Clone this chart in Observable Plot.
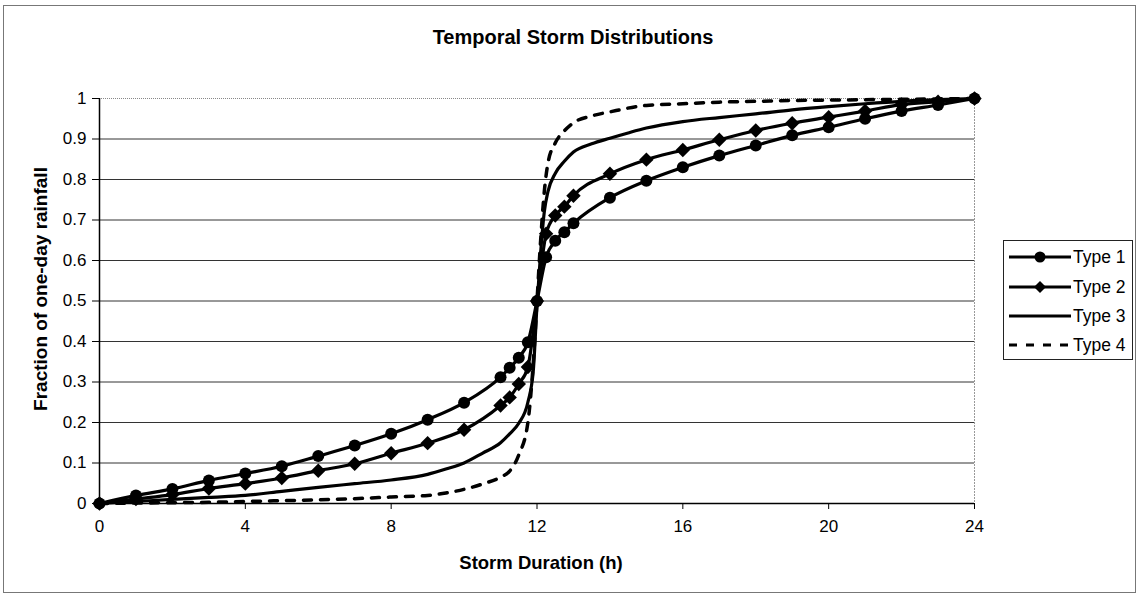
<!DOCTYPE html>
<html>
<head>
<meta charset="utf-8">
<script src="https://cdn.jsdelivr.net/npm/d3@7"></script>
<script src="https://cdn.jsdelivr.net/npm/@observablehq/plot@0.6"></script>
<style>
  html, body { margin: 0; padding: 0; background: #fff; }
  #wrap { position: relative; width: 1140px; height: 597px; font-family: "Liberation Sans", Arial, sans-serif; }
  #frame { position: absolute; left: 3px; top: 5px; width: 1133px; height: 588px; border: 1.5px solid #777; box-sizing: border-box; pointer-events: none; }
  #legend { position: absolute; left: 1003px; top: 240px; width: 130px; height: 120px; border: 1.5px solid #222; box-sizing: border-box; background: #fff; }
  .item { position: absolute; left: 4px; height: 20px; display: flex; align-items: center; font-size: 17.5px; color: #000; }
  .item svg { display: block; margin-right: 1px; }
</style>
</head>
<body>
<div id="wrap">
  <div id="chart"></div>
  <div id="frame"></div>
  <div id="legend"></div>
</div>
<script>
// ---- data ----
const title = "Temporal Storm Distributions";
const xLabel = "Storm Duration (h)";
const yLabel = "Fraction of one-day rainfall";
const seriesNames = ["Type 1", "Type 2", "Type 3", "Type 4"];
const xTicks = [0, 4, 8, 12, 16, 20, 24];
const yTicks = [0, 0.1, 0.2, 0.3, 0.4, 0.5, 0.6, 0.7, 0.8, 0.9, 1];

const hoursMarked = [0,1,2,3,4,5,6,7,8,9,10,11,11.25,11.5,11.75,12,12.25,12.5,12.75,13,14,15,16,17,18,19,20,21,22,23,24];
const type1 = [0,0.02,0.036,0.057,0.074,0.092,0.117,0.143,0.172,0.207,0.249,0.312,0.335,0.36,0.398,0.5,0.608,0.649,0.67,0.692,0.755,0.797,0.83,0.859,0.884,0.909,0.929,0.95,0.969,0.984,1];
const type2 = [0,0.011,0.022,0.037,0.049,0.063,0.081,0.098,0.124,0.149,0.182,0.242,0.262,0.295,0.337,0.5,0.666,0.711,0.733,0.76,0.814,0.849,0.873,0.898,0.921,0.939,0.954,0.969,0.985,0.992,1];

const hoursType3 = [0,1,2,3,4,5,6,7,8,9,9.5,10,10.5,11,11.25,11.5,11.75,11.9,12,12.1,12.2,12.3,12.5,12.75,13,13.5,14,14.5,15,16,17,18,19,20,21,22,23,24];
const type3 = [0,0.005,0.01,0.015,0.02,0.03,0.04,0.049,0.058,0.072,0.085,0.1,0.124,0.15,0.172,0.198,0.25,0.33,0.49,0.62,0.72,0.77,0.815,0.845,0.868,0.888,0.902,0.915,0.927,0.943,0.953,0.962,0.972,0.98,0.987,0.993,0.997,1];

const hoursType4 = [0,1,2,3,4,5,6,7,8,9,9.5,10,10.5,11,11.25,11.5,11.75,11.9,12,12.1,12.2,12.3,12.5,12.75,13,13.5,14,15,16,17,18,19,20,21,22,23,24];
const type4 = [0,0.001,0.002,0.003,0.005,0.007,0.009,0.012,0.016,0.02,0.026,0.035,0.048,0.065,0.08,0.12,0.2,0.35,0.5,0.65,0.77,0.84,0.89,0.92,0.94,0.957,0.967,0.983,0.987,0.991,0.993,0.995,0.996,0.997,0.998,0.999,1];

// ---- build tables ----
const s1 = hoursMarked.map((h, i) => ({h, v: type1[i]}));
const s2 = hoursMarked.map((h, i) => ({h, v: type2[i]}));
const s3 = hoursType3.map((h, i) => ({h, v: type3[i]}));
const s4 = hoursType4.map((h, i) => ({h, v: type4[i]}));

const font = "'Liberation Sans', Arial, sans-serif";
const chart = Plot.plot({
  width: 1140,
  height: 597,
  marginLeft: 99,
  marginRight: 166,
  marginTop: 98,
  marginBottom: 94,
  x: {domain: [0, 24]},
  y: {domain: [0, 1]},
  style: {fontFamily: font, fontSize: "17px", color: "#000", background: "transparent", overflow: "visible"},
  marks: [
    Plot.gridY(yTicks.filter(d => d > 0 && d < 1), {stroke: "#333", strokeOpacity: 1, strokeWidth: 1}),
    Plot.ruleY([1], {stroke: "#888", strokeDasharray: "1,1"}),
    Plot.ruleX([24], {stroke: "#999", strokeDasharray: "2,1"}),
    Plot.axisY(yTicks, {tickSize: 7, tickPadding: 6, label: null, tickFormat: d => String(d), fontSize: 17, stroke: "#000"}),
    Plot.axisX(xTicks, {tickSize: 6, tickPadding: 10, label: null, fontSize: 17, stroke: "#000"}),
    Plot.ruleX([0], {stroke: "#000", strokeWidth: 1.5}),
    Plot.ruleY([0], {stroke: "#000", strokeWidth: 1.5}),
    Plot.line(s4, {x: "h", y: "v", stroke: "#000", strokeWidth: 3.5, strokeDasharray: "8,9", curve: "monotone-x"}),
    Plot.line(s3, {x: "h", y: "v", stroke: "#000", strokeWidth: 3.2, curve: "monotone-x"}),
    Plot.line(s2, {x: "h", y: "v", stroke: "#000", strokeWidth: 3.2, curve: "monotone-x"}),
    Plot.line(s1, {x: "h", y: "v", stroke: "#000", strokeWidth: 3.2, curve: "monotone-x"}),
    Plot.dot(s2, {x: "h", y: "v", symbol: "diamond2", r: 6.5, fill: "#000", stroke: "none"}),
    Plot.dot(s1, {x: "h", y: "v", symbol: "circle", r: 6, fill: "#000", stroke: "none"}),
    Plot.text([title], {text: d => d, frameAnchor: "top", dy: -61, lineAnchor: "middle", textAnchor: "middle", fontWeight: "bold", fontSize: 20, dx: 36}),
    Plot.text([yLabel], {text: d => d, frameAnchor: "left", dx: -59, rotate: -90, lineAnchor: "middle", textAnchor: "middle", fontWeight: "bold", fontSize: 19, dy: -12}),
    Plot.text([xLabel], {text: d => d, frameAnchor: "bottom", dy: 60, lineAnchor: "middle", textAnchor: "middle", fontWeight: "bold", fontSize: 18.5, dx: 4})
  ]
});
document.getElementById("chart").appendChild(chart);

// ---- legend ----
const legend = document.getElementById("legend");
const tops = [6, 36, 65, 94];
seriesNames.forEach((name, i) => {
  const item = document.createElement("div");
  item.className = "item";
  item.style.top = tops[i] + "px";
  let marker = "";
  if (i === 0) marker = '<circle cx="32" cy="10" r="5.5" fill="#000"/>';
  if (i === 1) marker = '<path d="M32 4 L38 10 L32 16 L26 10 Z" fill="#000"/>';
  const dash = i === 3 ? ' stroke-dasharray="8,9"' : '';
  item.innerHTML = '<svg width="64" height="20"><line x1="1" x2="63" y1="10" y2="10" stroke="#000" stroke-width="3"' + dash + '/>' + marker + '</svg><span>' + name + '</span>';
  legend.appendChild(item);
});
</script>
</body>
</html>
